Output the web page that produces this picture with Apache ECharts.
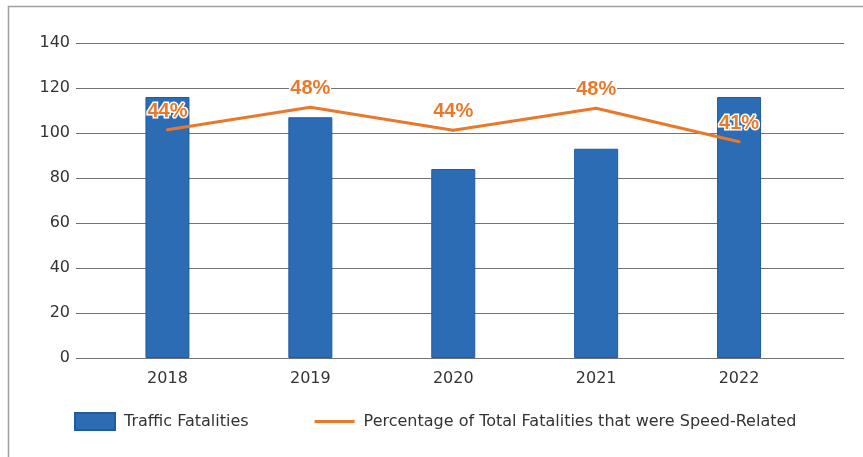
<!DOCTYPE html>
<html>
<head>
<meta charset="utf-8">
<script src="https://cdn.jsdelivr.net/npm/echarts@6/dist/echarts.min.js"></script>
<style>
  html, body { margin: 0; padding: 0; background: #fff; }
  #chart { width: 863px; height: 457px; }
</style>
</head>
<body>
<div id="chart"></div>
<script>
  // data
  var years = ['2018', '2019', '2020', '2021', '2022'];
  var fatalities = [116, 107, 84, 93, 116];
  var speedPct = [43.6, 47.7, 43.5, 47.5, 41.4];
  var yTicks = [0, 20, 40, 60, 80, 100, 120, 140];

  var orange = '#e8792b';
  var blue = '#2b6cb4';
  var font = '"DejaVu Sans", sans-serif';

  var chart = echarts.init(document.getElementById('chart'));
  chart.setOption({
      backgroundColor: '#fff',
      animation: false,
      textStyle: { fontFamily: font },
      graphic: [{
          type: 'polyline',
          silent: true,
          shape: { points: [[8.5, 457], [8.5, 6.5], [863, 6.5]] },
          style: { stroke: '#a0a0a0', lineWidth: 1.5, fill: null }
      }],
      legend: {
          left: 74,
          top: 412,
          padding: 0,
          itemWidth: 40,
          itemHeight: 17,
          itemGap: 66,
          textStyle: { fontSize: 16, color: '#333', fontFamily: font, padding: [0, 0, 0, 4] },
          data: [
              { name: 'Traffic Fatalities', icon: 'rect' },
              { name: 'Percentage of Total Fatalities that were Speed-Related', icon: 'path://M0,0 L38,0 L38,3 L0,3 Z' }
          ]
      },
      grid: [
          { left: 76, right: 19, top: 43, bottom: 99 },
          { left: 96, right: 52.5, top: 43, bottom: 99 }
      ],
      xAxis: [
          { type: 'category', gridIndex: 0, data: years, show: false },
          {
              type: 'category', gridIndex: 1, data: years,
              axisLine: { show: false },
              axisTick: { show: false },
              axisLabel: { fontSize: 16, color: '#333', margin: 13, fontFamily: font }
          }
      ],
      yAxis: [
          {
              type: 'value', gridIndex: 0, min: yTicks[0], max: yTicks[yTicks.length - 1], interval: 20,
              axisLine: { show: false },
              axisTick: { show: false },
              axisLabel: { fontSize: 16, color: '#333', margin: 6, fontFamily: font },
              splitLine: { lineStyle: { color: '#737373', width: 1 } }
          },
          { type: 'value', gridIndex: 1, min: 0, max: 140, show: false, splitLine: { show: false } },
          { type: 'value', gridIndex: 1, min: 2, max: 59.4, show: false, splitLine: { show: false } }
      ],
      series: [{
          name: 'Traffic Fatalities',
          type: 'bar',
          xAxisIndex: 1,
          yAxisIndex: 1,
          data: fatalities,
          barWidth: 44,
          itemStyle: { color: blue, borderColor: '#1f5b9e', borderWidth: 1 }
      }, {
          name: 'Percentage of Total Fatalities that were Speed-Related',
          type: 'line',
          xAxisIndex: 1,
          yAxisIndex: 2,
          data: speedPct,
          symbol: 'circle',
          symbolSize: 3,
          lineStyle: { color: orange, width: 3 },
          itemStyle: { color: orange },
          label: {
              show: true,
              position: 'top',
              distance: 7,
              fontSize: 20,
              fontWeight: 'bold',
              color: orange,
              textBorderColor: '#fff',
              textBorderWidth: 3,
              fontFamily: '"Liberation Sans", Arial, sans-serif',
              formatter: function (p) {
                  return Math.round(p.value) + '%';
              }
          }
      }]
  });
</script>
</body>
</html>
